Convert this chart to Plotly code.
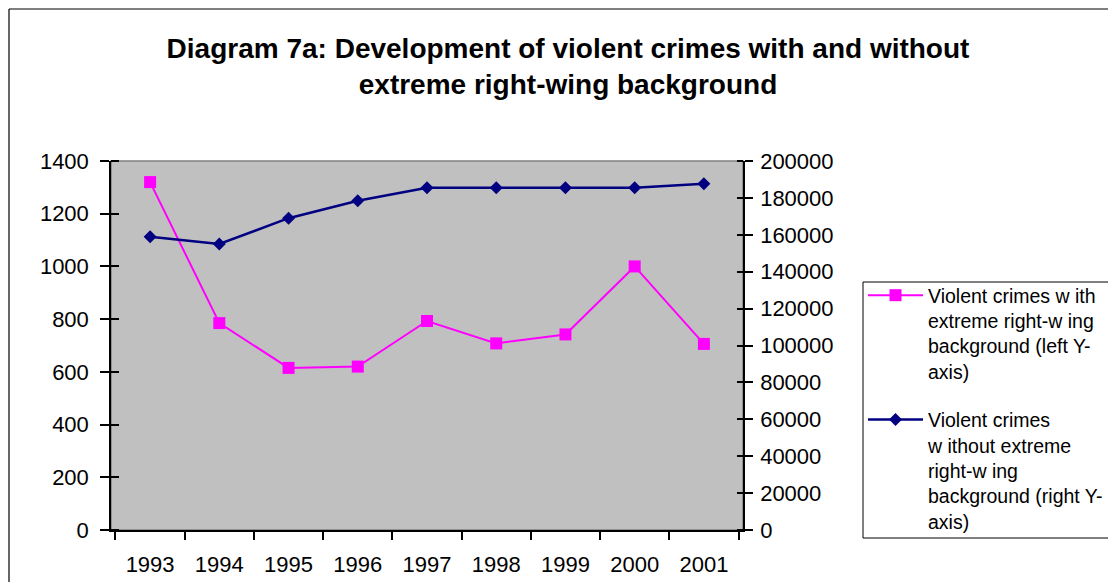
import plotly.graph_objects as go

years = ["1993", "1994", "1995", "1996", "1997", "1998", "1999", "2000", "2001"]
with_rw = [1320, 785, 615, 620, 793, 708, 742, 1000, 706]
without_rw = [159000, 155000, 169000, 178500, 185500, 185500, 185500, 185500, 187700]
left_ticks = [0, 200, 400, 600, 800, 1000, 1200, 1400]
right_ticks = [0, 20000, 40000, 60000, 80000, 100000, 120000, 140000, 160000, 180000, 200000]

title_text = ("Diagram 7a: Development of violent crimes with and without<br>"
              "extreme right-wing background")
name1 = "Violent crimes w ith<br>extreme right-w ing<br>background (left Y-<br>axis)"
name2 = "Violent crimes<br>w ithout extreme<br>right-w ing<br>background (right Y-<br>axis)"

FONT = "Liberation Sans, Arial, sans-serif"

# page body has an 8px margin; work in figure coordinates
O = 8
W, H = 1116, 582
L, R, T, B = 111 - O, 743 - O, 161 - O, 530 - O
pw = R - L
ph = B - T


def px(x):
    return (x - O - L) / pw


def py(y):
    return (B - (y - O)) / ph


fig = go.Figure()
fig.add_trace(go.Scatter(
    x=years, y=with_rw, name=name1, mode="lines+markers", legendgroup="a",
    line=dict(color="#FF00FF", width=2),
    marker=dict(symbol="square", size=12, color="#FF00FF"),
    yaxis="y"))
fig.add_trace(go.Scatter(
    x=years, y=without_rw, name=name2, mode="lines+markers", legendgroup="b",
    line=dict(color="#000080", width=2.5),
    marker=dict(symbol="diamond", size=10, color="#000080"),
    yaxis="y2"))

fig.update_layout(
    width=W, height=H,
    margin=dict(l=L, r=W - R, t=T, b=H - B, pad=0, autoexpand=False),
    paper_bgcolor="white",
    plot_bgcolor="#C0C0C0",
    font=dict(family=FONT, color="black", size=20),
    title=dict(text=title_text, x=(568 - O) / W, xanchor="center", xref="container",
               y=1 - (65.5 - O - 8) / H, yanchor="middle", yref="container",
               font=dict(family=FONT, size=28, color="black", weight="bold")),
    xaxis=dict(type="category", tickson="boundaries", ticks="outside", ticklen=8,
               tickcolor="black", tickwidth=1.5, showline=True, linecolor="black",
               linewidth=1.5, showgrid=False, tickfont=dict(size=22),
               ticklabelstandoff=14, zeroline=False, automargin=False),
    yaxis=dict(range=[0, 1400], tickvals=left_ticks, ticks="outside", ticklen=9,
               tickcolor="black", tickwidth=1.5, showline=True, linecolor="black",
               linewidth=1.5, showgrid=False, zeroline=False, tickformat="d",
               tickfont=dict(size=22), ticklabelstandoff=7, automargin=False,
               minor=dict(ticks="inside", ticklen=8, tickvals=left_ticks,
                          tickcolor="black", tickwidth=1.5, showgrid=False)),
    yaxis2=dict(range=[0, 200000], tickvals=right_ticks, overlaying="y", side="right",
                ticks="outside", ticklen=8, tickcolor="black", tickwidth=1.5,
                showline=True, linecolor="black", linewidth=1.5, showgrid=False,
                zeroline=False, tickformat="d", tickfont=dict(size=22),
                ticklabelstandoff=3, automargin=False,
                minor=dict(ticks="inside", ticklen=6, tickvals=right_ticks,
                           tickcolor="black", tickwidth=1.5, showgrid=False)),
    legend=dict(x=px(863), y=py(276), xanchor="left", yanchor="top",
                xref="paper", yref="paper",
                bgcolor="rgba(0,0,0,0)", borderwidth=0,
                font=dict(family=FONT, size=19.5, color="black"),
                tracegroupgap=20, itemwidth=55, traceorder="grouped",
                valign="top"),
    showlegend=True,
    shapes=[
        dict(type="rect", xref="paper", yref="paper", x0=0, x1=1, y0=0, y1=1,
             line=dict(color="#808080", width=1.5), layer="below"),
        dict(type="line", xref="paper", yref="paper", x0=px(9), x1=px(9),
             y0=py(9), y1=py(620), line=dict(color="black", width=1.2)),
        dict(type="line", xref="paper", yref="paper", x0=px(9), x1=px(1140),
             y0=py(9), y1=py(9), line=dict(color="black", width=1.2)),
        dict(type="rect", xref="paper", yref="paper", x0=px(863), x1=px(1140),
             y0=py(538), y1=py(282), line=dict(color="black", width=1),
             fillcolor="white", layer="below"),
    ],
)

fig.write_html("out.html")
